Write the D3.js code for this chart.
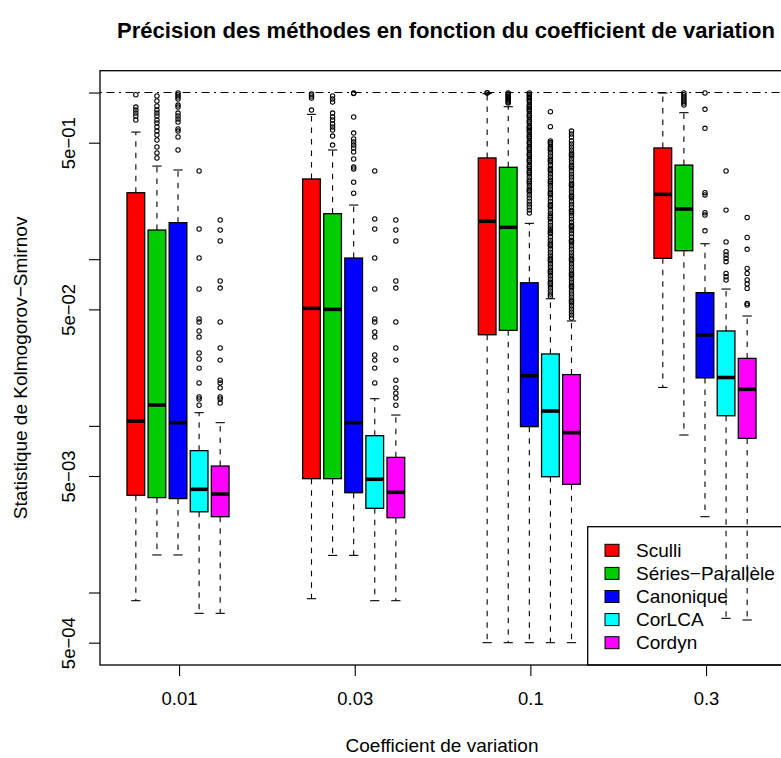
<!DOCTYPE html>
<html>
<head>
<meta charset="utf-8">
<script src="https://cdn.jsdelivr.net/npm/d3@7"></script>
<style>
  html, body { margin: 0; padding: 0; background: #fff; }
  svg { display: block; font-family: "Liberation Sans", Arial, Helvetica, sans-serif; }
</style>
</head>
<body>
<svg id="chart" width="781" height="758"></svg>
<script>
// ---------------- DATA ----------------
const categories = ["0.01", "0.03", "0.1", "0.3"];
const methods = ["Sculli", "Séries\u2212Parallèle", "Canonique", "CorLCA", "Cordyn"];
const methodColors = ["#FF0000", "#00CD00", "#0000FF", "#00FFFF", "#FF00FF"];
const yTickValues = [1, 5e-1, 1e-1, 5e-2, 1e-2, 5e-3, 1e-3, 5e-4];
const yTickLabels = ["", "5e\u221201", "", "5e\u221202", "", "5e\u221203", "", "5e\u221204"];
const refLineValue = 1;

// [lower whisker, Q1, median, Q3, upper whisker] per coefficient de variation
const sculliStats = [
  [0.000893, 0.00383, 0.01069, 0.2505, 0.579],
  [0.000918, 0.00482, 0.0507, 0.303, 0.740],
  [0.0005, 0.0352, 0.1687, 0.405, 0.985],
  [0.0170, 0.1012, 0.245, 0.465, 0.993]
];
const seriesStats = [
  [0.00168, 0.00371, 0.01334, 0.1496, 0.362],
  [0.00167, 0.00482, 0.0500, 0.1875, 0.452],
  [0.0005, 0.0374, 0.1553, 0.356, 0.822],
  [0.00881, 0.1124, 0.200, 0.367, 0.757]
];
const canoniqueStats = [
  [0.00168, 0.00366, 0.01045, 0.1656, 0.343],
  [0.00167, 0.00397, 0.01045, 0.1016, 0.2113],
  [0.0005, 0.00989, 0.0200, 0.0722, 0.1641],
  [0.00285, 0.0194, 0.0351, 0.0630, 0.1238]
];
const corlcaStats = [
  [0.00075, 0.00305, 0.00416, 0.00710, 0.0120],
  [0.000893, 0.00320, 0.00478, 0.00873, 0.01455],
  [0.0005, 0.00495, 0.01227, 0.0270, 0.0579],
  [0.00070, 0.01150, 0.0195, 0.0371, 0.0662]
];
const cordynStats = [
  [0.00075, 0.00285, 0.00390, 0.00574, 0.01045],
  [0.000893, 0.00281, 0.00399, 0.00647, 0.01161],
  [0.0005, 0.00446, 0.00910, 0.0203, 0.0426],
  [0.000684, 0.00841, 0.01656, 0.0254, 0.0456]
];

// outliers per coefficient de variation
const sculliOut = [
  [0.970, 0.818, 0.785, 0.753, 0.723, 0.684],
  [0.979, 0.953, 0.927, 0.785],
  [0.998, 0.994],
  []
];
const seriesOut = [
  [0.953, 0.889, 0.830, 0.785, 0.753, 0.723, 0.684, 0.656, 0.621, 0.587, 0.556, 0.519, 0.471, 0.434, 0.405],
  [0.953, 0.914, 0.877, 0.753, 0.713, 0.684, 0.647, 0.621, 0.596, 0.548, 0.484],
  [0.993, 0.979, 0.966, 0.953, 0.940, 0.927, 0.914, 0.901, 0.889, 0.877, 0.865],
  [0.993, 0.966, 0.940, 0.914, 0.889, 0.865, 0.841]
];
const canoniqueOut = [
  [0.993, 0.966, 0.940, 0.914, 0.841, 0.818, 0.753, 0.723, 0.693, 0.665, 0.604, 0.587, 0.541, 0.452],
  [0.993, 0.986, 0.713, 0.571, 0.526, 0.505, 0.484, 0.465, 0.440, 0.399, 0.357, 0.348, 0.290, 0.249],
  [0.993, 0.972, 0.953, 0.934, 0.914, 0.895, 0.877, 0.841, 0.822, 0.807, 0.789, 0.774, 0.743, 0.728, 0.713,
   0.684, 0.669, 0.656, 0.630, 0.617, 0.604, 0.591, 0.579, 0.556, 0.544, 0.533, 0.512, 0.501, 0.491, 0.471,
   0.461, 0.452, 0.434, 0.425, 0.416, 0.399, 0.391, 0.383, 0.367, 0.359, 0.352, 0.338, 0.331, 0.324, 0.311,
   0.299, 0.292, 0.286, 0.275, 0.264, 0.258, 0.253, 0.243, 0.233, 0.223, 0.214, 0.206, 0.197, 0.189],
  [0.993, 0.793, 0.610, 0.2506, 0.243, 0.190, 0.184, 0.148]
];
const corlcaOut = [
  [0.338, 0.1517, 0.1016, 0.0662, 0.0438, 0.0420, 0.0371, 0.0341, 0.0274, 0.0252, 0.0222, 0.0181, 0.0149, 0.0145, 0.0133],
  [0.338, 0.1742, 0.1517, 0.1016, 0.0662, 0.0438, 0.0420, 0.0366, 0.0341, 0.0266, 0.0248, 0.0222, 0.0181],
  [0.767, 0.624, 0.512, 0.501, 0.491, 0.471, 0.461, 0.452, 0.434, 0.416, 0.399, 0.391, 0.383, 0.367, 0.352,
   0.345, 0.338, 0.324, 0.311, 0.299, 0.292, 0.286, 0.275, 0.264, 0.253, 0.248, 0.243, 0.233, 0.223, 0.214,
   0.210, 0.206, 0.197, 0.189, 0.182, 0.178, 0.174, 0.167, 0.160, 0.154, 0.148, 0.145, 0.142, 0.136, 0.130,
   0.125, 0.122, 0.120, 0.115, 0.110, 0.106, 0.1016, 0.0995, 0.0975, 0.0935, 0.0897, 0.0861, 0.0844, 0.0826,
   0.0792, 0.0760, 0.0729, 0.0715, 0.0700, 0.0671, 0.0644, 0.0618, 0.0600],
  [0.338, 0.197, 0.127, 0.111, 0.106, 0.1012, 0.0966, 0.0822, 0.0785, 0.0750]
];
const cordynOut = [
  [0.1718, 0.1496, 0.1285, 0.0740, 0.0671, 0.0420, 0.0293, 0.0248, 0.0188, 0.0181, 0.0169, 0.0149, 0.0145, 0.0137],
  [0.1718, 0.1496, 0.1285, 0.0740, 0.0671, 0.0420, 0.0293, 0.0248, 0.0188, 0.0169, 0.0157, 0.0147, 0.0133],
  [0.587, 0.564, 0.541, 0.512, 0.491, 0.471, 0.452, 0.434, 0.425, 0.416, 0.399, 0.383, 0.367, 0.359, 0.352,
   0.338, 0.324, 0.311, 0.299, 0.286, 0.280, 0.275, 0.264, 0.253, 0.243, 0.238, 0.233, 0.223, 0.214, 0.206,
   0.197, 0.193, 0.189, 0.182, 0.174, 0.167, 0.160, 0.157, 0.154, 0.148, 0.142, 0.136, 0.130, 0.128, 0.125,
   0.120, 0.115, 0.110, 0.106, 0.1016, 0.0995, 0.0975, 0.0935, 0.0897, 0.0861, 0.0826, 0.0809, 0.0792, 0.0760,
   0.0729, 0.0700, 0.0685, 0.0671, 0.0644, 0.0618, 0.0593, 0.0569, 0.0557, 0.0546, 0.0524, 0.0502, 0.0482,
   0.0462, 0.0444],
  [0.178, 0.135, 0.1146, 0.0881, 0.0822, 0.0750, 0.0710, 0.0668, 0.0543, 0.0531]
];

const allStats = [sculliStats, seriesStats, canoniqueStats, corlcaStats, cordynStats];
const allOut = [sculliOut, seriesOut, canoniqueOut, corlcaOut, cordynOut];

// ---------------- LAYOUT ----------------
const svg = d3.select("#chart");
const plot = { left: 100, right: 783, top: 70.7, bottom: 665 };
const groupGap = 8.33;          // distance between groups, in box units
const boxHalf = 0.42;           // half box width, box units
const capHalf = 0.22;
const baseFont = 19;

const x = d3.scaleLinear().domain([-1.7, 30.69]).range([plot.left, plot.right]);
const y = d3.scaleLog().domain([Math.pow(10, -3.435), Math.pow(10, 0.131)]).range([plot.bottom, plot.top]);

svg.append("rect").attr("width", 781).attr("height", 758).attr("fill", "#fff");

const boxes = [];
categories.forEach((c, g) => {
  methods.forEach((m, i) => {
    const s = allStats[i][g];
    boxes.push({ g, i, pos: g * groupGap + i, low: s[0], q1: s[1], med: s[2], q3: s[3], high: s[4], out: allOut[i][g], color: methodColors[i] });
  });
});

// reference dash-dot line at 1
svg.append("line")
  .attr("x1", plot.left).attr("x2", 781)
  .attr("y1", y(refLineValue)).attr("y2", y(refLineValue))
  .attr("stroke", "#000").attr("stroke-width", 1.1)
  .attr("stroke-dasharray", "2,4.5,8,4.5");

const bg = svg.append("g");
const bx = bg.selectAll("g.box").data(boxes).join("g").attr("class", "box");

bx.append("line")
  .attr("x1", d => x(d.pos)).attr("x2", d => x(d.pos))
  .attr("y1", d => y(d.q3)).attr("y2", d => y(d.high))
  .attr("stroke", "#000").attr("stroke-width", 1.1).attr("stroke-dasharray", "5.5,6");
bx.append("line")
  .attr("x1", d => x(d.pos)).attr("x2", d => x(d.pos))
  .attr("y1", d => y(d.q1)).attr("y2", d => y(d.low))
  .attr("stroke", "#000").attr("stroke-width", 1.1).attr("stroke-dasharray", "5.5,6");
["high", "low"].forEach(k => {
  bx.append("line")
    .attr("x1", d => x(d.pos - capHalf)).attr("x2", d => x(d.pos + capHalf))
    .attr("y1", d => y(d[k])).attr("y2", d => y(d[k]))
    .attr("stroke", "#000").attr("stroke-width", 1.1);
});
bx.append("rect")
  .attr("x", d => x(d.pos - boxHalf)).attr("width", d => x(d.pos + boxHalf) - x(d.pos - boxHalf))
  .attr("y", d => y(d.q3)).attr("height", d => y(d.q1) - y(d.q3))
  .attr("fill", d => d.color).attr("stroke", "#000").attr("stroke-width", 1.3);
bx.append("line")
  .attr("x1", d => x(d.pos - boxHalf)).attr("x2", d => x(d.pos + boxHalf))
  .attr("y1", d => y(d.med)).attr("y2", d => y(d.med))
  .attr("stroke", "#000").attr("stroke-width", 3.6);
bx.selectAll("circle").data(d => d.out.map(v => ({ v, pos: d.pos }))).join("circle")
  .attr("cx", d => x(d.pos)).attr("cy", d => y(d.v)).attr("r", 2.2)
  .attr("fill", "none").attr("stroke", "#000").attr("stroke-width", 1.05);

// frame
svg.append("rect")
  .attr("x", plot.left).attr("y", plot.top)
  .attr("width", plot.right - plot.left).attr("height", plot.bottom - plot.top)
  .attr("fill", "none").attr("stroke", "#000").attr("stroke-width", 1.3);

// y axis
const yAxis = svg.append("g").attr("transform", `translate(${plot.left},0)`)
  .call(d3.axisLeft(y).tickValues(yTickValues).tickSize(11)
    .tickFormat((d, i) => yTickLabels[i]));
yAxis.select(".domain").remove();
yAxis.selectAll(".tick line").attr("stroke-width", 1.1);
yAxis.selectAll(".tick text")
  .attr("x", null).attr("dy", null)
  .attr("transform", "translate(-25,0) rotate(-90)")
  .attr("text-anchor", "middle")
  .attr("font-size", 18.5).attr("font-family", "Liberation Sans, Arial, sans-serif").attr("fill", "#000");

// x axis
const groupCenters = categories.map((c, g) => g * groupGap + 2.05);
const xAxis = svg.append("g").attr("transform", `translate(0,${plot.bottom})`)
  .call(d3.axisBottom(x).tickValues(groupCenters).tickSize(11).tickFormat((d, i) => categories[i]));
xAxis.select(".domain").remove();
xAxis.selectAll(".tick line").attr("stroke-width", 1.1);
xAxis.selectAll(".tick text")
  .attr("y", 27).attr("dy", "0.71em")
  .attr("font-size", 18.5).attr("font-family", "Liberation Sans, Arial, sans-serif").attr("fill", "#000");

// title & labels
const title = svg.append("text").attr("x", 446).attr("y", 38).attr("text-anchor", "middle")
  .attr("font-size", 20).attr("font-weight", "bold")
  .text("Précision des méthodes en fonction du coefficient de variation");
const tw = title.node().getComputedTextLength();
if (tw > 0) title.attr("font-size", 20 * 658 / tw);

svg.append("text").attr("x", 442).attr("y", 752).attr("text-anchor", "middle")
  .attr("font-size", baseFont).text("Coefficient de variation");
svg.append("text")
  .attr("transform", `translate(27,${(plot.top + plot.bottom) / 2}) rotate(-90)`)
  .attr("text-anchor", "middle").attr("font-size", baseFont)
  .text("Statistique de Kolmogorov\u2212Smirnov");

// legend (transparent background, as in the original)
const lg = svg.append("g");
lg.append("rect").attr("x", 587.7).attr("y", 526.7)
  .attr("width", plot.right - 587.7).attr("height", plot.bottom - 526.7)
  .attr("fill", "none").attr("stroke", "#000").attr("stroke-width", 1.3);
const rows = lg.selectAll("g.row").data(methods).join("g").attr("class", "row")
  .attr("transform", (d, i) => `translate(0,${550.3 + i * 23.1})`);
rows.append("rect").attr("x", 605).attr("y", -6).attr("width", 14).attr("height", 12)
  .attr("fill", (d, i) => methodColors[i]).attr("stroke", "#000").attr("stroke-width", 1);
rows.append("text").attr("x", 636).attr("y", 6.5).attr("font-size", baseFont).text(d => d);
</script>
</body>
</html>
